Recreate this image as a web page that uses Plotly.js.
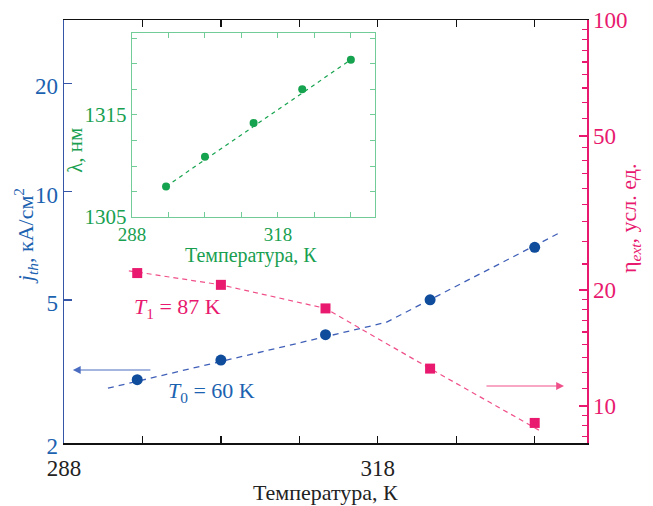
<!DOCTYPE html>
<html>
<head>
<meta charset="utf-8">
<script src="https://cdn.plot.ly/plotly-3.0.1.min.js"></script>
<style>html,body{margin:0;padding:0;background:#fff;}#chart{width:653px;height:506px;}</style>
</head>
<body>
<div id="chart"></div>
<script>
// ---- data ----
var temps = [295, 303, 313, 323, 333];               // temperature, K
var jth = [3.0, 3.4, 4.0, 5.0, 7.0];                  // threshold current density, kA/cm^2
var etaExt = [22.1, 20.6, 17.9, 12.5, 9.04];          // external efficiency, arb. units
var lambda = [1308.0, 1310.9, 1314.2, 1317.5, 1320.4];// wavelength, nm
var jthFitT = [292.2, 318.8, 335.3];                  // blue dashed guide (T0 = 60 K)
var jthFit = [2.84, 4.33, 7.66];
var etaGuideT = [294.2, 303, 313, 323, 333.6];        // pink dashed guide (T1 = 87 K)
var etaGuide = [22.4, 20.6, 17.9, 12.5, 8.6];
var lamFitT = [295, 333];                             // inset dashed fit
var lamFit = [1308.0, 1320.4];
var xTickVals = [288, 295.5, 303, 310.5, 318, 325.5, 333];
var xTickText = ['288', '', '', '', '318', '', ''];
var jTickVals = [2, 5, 10, 20];
var etaTickVals = [10, 20, 50, 100];
var etaMinorVals = [8.33, 8.89, 9.44, 11.11, 12.22, 13.33, 14.44, 15.56, 16.67, 17.78, 18.89,
  23.33, 26.67, 30, 33.33, 36.67, 40, 43.33, 46.67, 55.56, 61.11, 66.67, 72.22, 77.78, 83.33, 88.89, 94.44];
var lamTickVals = [1305, 1307.5, 1310, 1312.5, 1315, 1317.5, 1320, 1322.5];
var lamTickText = ['1305', '', '', '', '1315', '', '', ''];

var F = 'Liberation Serif, Times New Roman, serif';
var blueText = '#1b62b0', blueAxis = '#3556a6', blueMark = '#0f4c9c', blueDash = '#4060b8';
var pink = '#e8196e', pinkDash = '#f0508a';
var green = '#18a050', greenFrame = '#72cc98', greenMark = '#16a34f';

var traces = [
  {x: jthFitT, y: jthFit, xaxis: 'x', yaxis: 'y', mode: 'lines',
   line: {color: blueDash, width: 1.3, dash: '6px,5px'}, hoverinfo: 'skip'},
  {x: temps, y: jth, xaxis: 'x', yaxis: 'y', mode: 'markers',
   marker: {color: blueMark, size: 11, symbol: 'circle'}},
  {x: etaGuideT, y: etaGuide, xaxis: 'x', yaxis: 'y2', mode: 'lines',
   line: {color: pinkDash, width: 1.2, dash: '5px,4px'}, hoverinfo: 'skip'},
  {x: temps, y: etaExt, xaxis: 'x', yaxis: 'y2', mode: 'markers',
   marker: {color: pink, size: 10, symbol: 'square'}},
  {x: lamFitT, y: lamFit, xaxis: 'x2', yaxis: 'y3', mode: 'lines',
   line: {color: greenMark, width: 1.2, dash: '4px,4px'}, hoverinfo: 'skip'},
  {x: temps, y: lambda, xaxis: 'x2', yaxis: 'y3', mode: 'markers',
   marker: {color: greenMark, size: 8, symbol: 'circle'}}
];

var layout = {
  width: 653, height: 506,
  margin: {l: 64, r: 66, t: 20, b: 63, pad: 0},
  paper_bgcolor: '#fff', plot_bgcolor: '#fff',
  showlegend: false,
  font: {family: F, size: 21, color: '#222'},
  xaxis: {
    range: [288, 338], tickmode: 'array', tickvals: xTickVals, ticktext: xTickText,
    ticks: 'inside', ticklen: 7, tickwidth: 1.3, tickcolor: '#111',
    showline: true, linecolor: '#111', linewidth: 1.5, mirror: 'ticks',
    showgrid: false, zeroline: false, ticklabelstandoff: 4,
    tickfont: {family: F, size: 23, color: '#222'}
  },
  yaxis: {
    type: 'log', range: [Math.log10(2), Math.log10(30)],
    tickmode: 'array', tickvals: jTickVals, ticktext: jTickVals.map(String),
    ticks: 'inside', ticklen: 8, tickwidth: 1.5, tickcolor: blueAxis,
    showline: true, linecolor: blueAxis, linewidth: 1.5,
    showgrid: false, zeroline: false, ticklabelshift: 3,
    tickfont: {family: F, size: 23, color: blueText}
  },
  yaxis2: {
    type: 'log', range: [Math.log10(8.02), 2], overlaying: 'y', side: 'right', anchor: 'x',
    tickmode: 'array', tickvals: etaTickVals, ticktext: etaTickVals.map(String),
    ticks: 'inside', ticklen: 8, tickwidth: 1.5, tickcolor: pink,
    minor: {tickmode: 'array', tickvals: etaMinorVals, ticks: 'inside', ticklen: 5, tickwidth: 1.3, tickcolor: pink, showgrid: false},
    showline: true, linecolor: pink, linewidth: 1.5,
    showgrid: false, zeroline: false,
    tickfont: {family: F, size: 23, color: pink}
  },
  xaxis2: {
    domain: [0.130, 0.595], anchor: 'y3', range: [288, 338],
    tickmode: 'array', tickvals: xTickVals, ticktext: xTickText,
    ticks: 'inside', ticklen: 5, tickwidth: 1, tickcolor: greenFrame,
    showline: true, linecolor: greenFrame, linewidth: 1.3, mirror: 'ticks',
    showgrid: false, zeroline: false,
    tickfont: {family: F, size: 19, color: green}
  },
  yaxis3: {
    domain: [0.534, 0.969], anchor: 'x2', range: [1305, 1323],
    tickmode: 'array', tickvals: lamTickVals, ticktext: lamTickText,
    ticks: 'inside', ticklen: 5, tickwidth: 1, tickcolor: greenFrame,
    showline: true, linecolor: greenFrame, linewidth: 1.3, mirror: 'ticks',
    showgrid: false, zeroline: false,
    tickfont: {family: F, size: 21, color: green}
  },
  annotations: [
    {text: 'Температура, К', xref: 'paper', yref: 'paper', x: 0.5, y: -0.117,
     xanchor: 'center', yanchor: 'middle', showarrow: false, font: {family: F, size: 22, color: '#222'}},
    {text: '<i>j</i><sub><i>th</i></sub>, кА/см<sup>2</sup>', xref: 'paper', yref: 'paper',
     x: -0.0746, y: 0.489, xanchor: 'center', yanchor: 'middle', textangle: -90, showarrow: false,
     font: {family: F, size: 22, color: blueText}},
    {text: 'η<sub><i>ext</i></sub>, усл. ед.', xref: 'paper', yref: 'paper',
     x: 1.0822, y: 0.532, xanchor: 'center', yanchor: 'middle', textangle: -90, showarrow: false,
     font: {family: F, size: 22, color: pink}},
    {text: 'λ, нм', xref: 'paper', yref: 'paper', x: 0.021, y: 0.693,
     xanchor: 'center', yanchor: 'middle', textangle: -90, showarrow: false,
     font: {family: F, size: 21, color: green}},
    {text: 'Температура, К', xref: 'paper', yref: 'paper', x: 0.358, y: 0.444,
     xanchor: 'center', yanchor: 'middle', showarrow: false, font: {family: F, size: 20, color: green}},
    {text: '<i>T</i><sub>1</sub> = 87 K', xref: 'paper', yref: 'paper', x: 0.130, y: 0.319,
     xanchor: 'left', yanchor: 'middle', showarrow: false, font: {family: F, size: 22, color: pink}},
    {text: '<i>T</i><sub>0</sub> = 60 K', xref: 'paper', yref: 'paper', x: 0.195, y: 0.120,
     xanchor: 'left', yanchor: 'middle', showarrow: false, font: {family: F, size: 22, color: blueText}},
    {text: '', xref: 'paper', yref: 'paper', x: 0.017, y: 0.1726, axref: 'pixel', ayref: 'pixel',
     ax: 79, ay: 0, showarrow: true, arrowhead: 2, arrowsize: 1.3, arrowwidth: 1.2, arrowcolor: '#4a6cc0'},
    {text: '', xref: 'paper', yref: 'paper', x: 0.956, y: 0.1348, axref: 'pixel', ayref: 'pixel',
     ax: -79, ay: 0, showarrow: true, arrowhead: 2, arrowsize: 1.3, arrowwidth: 1.2, arrowcolor: '#f0508a'}
  ]
};

Plotly.newPlot('chart', traces, layout, {staticPlot: true, displayModeBar: false});
</script>
</body>
</html>
